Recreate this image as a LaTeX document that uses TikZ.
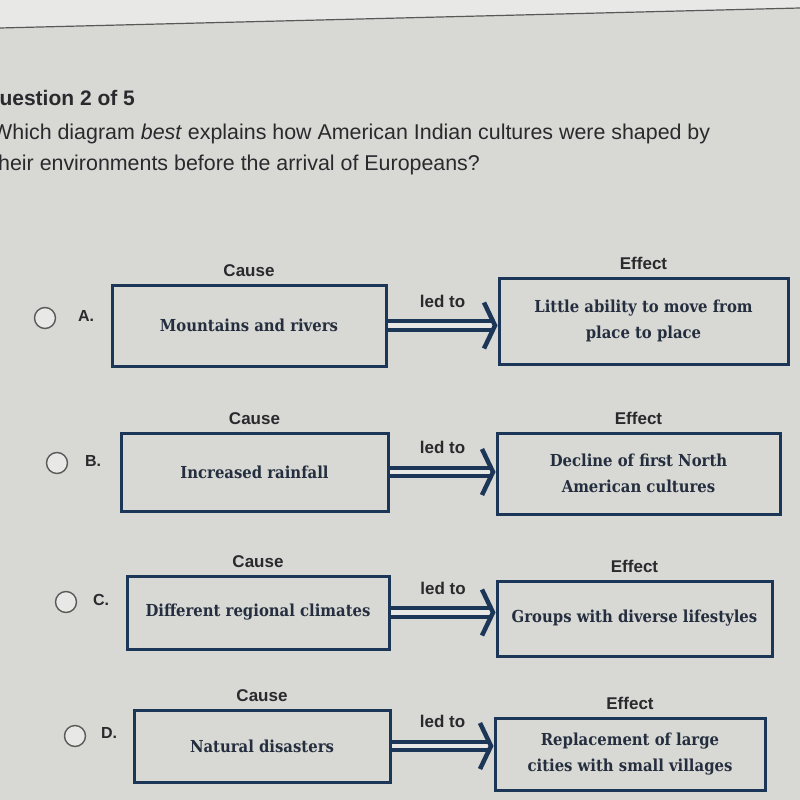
\documentclass[tikz,border=0pt]{standalone}
\usepackage{fontspec}
\setsansfont{Liberation Sans}
\newfontfamily\slabfont{DejaVu Serif Condensed}[BoldFont={DejaVu Serif Condensed Bold}]
\usetikzlibrary{positioning,arrows.meta}
\definecolor{navy}{RGB}{28,54,88}
\definecolor{screen}{RGB}{216,216,212}
\definecolor{glare}{RGB}{232,232,230}
\definecolor{ink}{RGB}{42,42,46}
\definecolor{boxink}{RGB}{36,46,62}

\begin{document}
\begin{tikzpicture}[x=1pt, y=-1pt,
    cbox/.style={draw=navy, line width=3pt, align=center, text=boxink,
        font=\slabfont\bfseries\fontsize{16.5}{26}\selectfont},
    heading/.style={font=\sffamily\bfseries\fontsize{17}{20}\selectfont, text=ink},
    ledto/.style={navy, line width=3.8pt, double=glare, double distance=4.5pt,
        -{Straight Barb[length=11pt, width=46pt, line width=4.5pt]}},
    radio/.style={circle, draw=gray!70!black, line width=1.4pt, fill=glare,
        minimum size=21pt, inner sep=0pt},
    letter/.style={font=\sffamily\bfseries\fontsize{16}{18}\selectfont, text=ink}]
    \useasboundingbox (0,0) rectangle (800,800);
    \clip (0,0) rectangle (800,800);

    % Screen
    \fill[screen] (0,0) rectangle (800,800);
    \fill[glare] (0,0) -- (0,28) -- (800,8) -- (800,0) -- cycle;
    \draw[gray!70!black, line width=1.2pt] (0,28) -- (800,8);

    % Question
    \node[anchor=base west, inner sep=0pt, text=ink,
        font=\sffamily\bfseries\fontsize{21}{24}\selectfont] (qnum) at (-17,105) {Question 2 of 5};
    \node[anchor=base west, inner sep=0pt, align=left, text=ink,
        font=\sffamily\fontsize{21.4}{31}\selectfont] (qtext) at (-8,170)
        {Which diagram \textit{best} explains how American Indian cultures were shaped by\\
         their environments before the arrival of Europeans?};

    % Option A
    \node[radio] (radA) at (45,318) {};
    \node[letter] (letA) at (86,316) {A.};
    \node[cbox, minimum width=274pt, minimum height=81pt] (causeA) at (249,325.5) {Mountains and rivers};
    \node[cbox, minimum width=289pt, minimum height=86pt] (effectA) at (643.5,321) {Little ability to move from\\place to place};
    \node[heading, above=3pt of causeA] (causeAl) {Cause};
    \node[heading, above=3pt of effectA] (effectAl) {Effect};
    \draw[ledto] (causeA.east) -- (causeA.east -| effectA.west) node[heading, midway, above=13pt] (ledA) {led to};

    % Option B
    \node[radio] (radB) at (57,463) {};
    \node[letter] (letB) at (93,461) {B.};
    \node[cbox, minimum width=267pt, minimum height=78pt] (causeB) at (254.5,472) {Increased rainfall};
    \node[cbox, minimum width=283pt, minimum height=81pt] (effectB) at (638.5,473.5) {Decline of first North\\American cultures};
    \node[heading, above=3pt of causeB] (causeBl) {Cause};
    \node[heading, above=3pt of effectB] (effectBl) {Effect};
    \draw[ledto] (causeB.east) -- (causeB.east -| effectB.west) node[heading, midway, above=13pt] (ledB) {led to};

    % Option C
    \node[radio] (radC) at (66,602) {};
    \node[letter] (letC) at (101,600) {C.};
    \node[cbox, minimum width=262pt, minimum height=73pt] (causeC) at (258,612.5) {Different regional climates};
    \node[cbox, minimum width=275pt, minimum height=75pt] (effectC) at (634.5,618.5) {Groups with diverse lifestyles};
    \node[heading, above=3pt of causeC] (causeCl) {Cause};
    \node[heading, above=3pt of effectC] (effectCl) {Effect};
    \draw[ledto] (causeC.east) -- (causeC.east -| effectC.west) node[heading, midway, above=13pt] (ledC) {led to};

    % Option D
    \node[radio] (radD) at (75,736) {};
    \node[letter] (letD) at (109,733) {D.};
    \node[cbox, minimum width=256pt, minimum height=72pt] (causeD) at (262,746) {Natural disasters};
    \node[cbox, minimum width=270pt, minimum height=72pt] (effectD) at (630,754) {Replacement of large\\cities with small villages};
    \node[heading, above=3pt of causeD] (causeDl) {Cause};
    \node[heading, above=3pt of effectD] (effectDl) {Effect};
    \draw[ledto] (causeD.east) -- (causeD.east -| effectD.west) node[heading, midway, above=13pt] (ledD) {led to};
\end{tikzpicture}
\end{document}
